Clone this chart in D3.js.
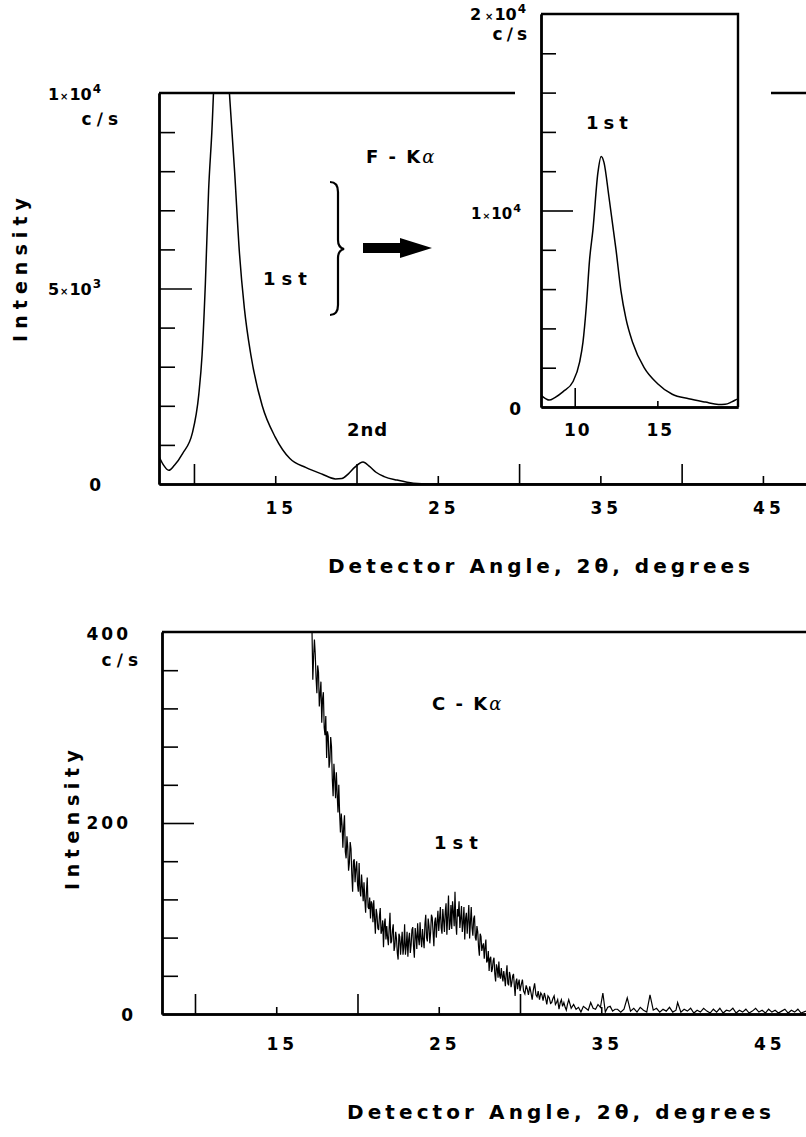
<!DOCTYPE html>
<html>
<head>
<meta charset="utf-8">
<script src="https://cdn.jsdelivr.net/npm/d3@7/dist/d3.min.js"></script>
<style>
  body { margin: 0; background: #fff; }
  text { font-family: "DejaVu Sans", "Liberation Sans", sans-serif; font-weight: bold; fill: #000; }
</style>
</head>
<body>
<div id="chart"></div>
<script>
// F-K alpha scan (degrees 2theta, counts per second)
var fkaAngle  = [7.85, 8.1, 8.45, 8.8, 9.3, 9.9, 10.3, 10.5, 10.7, 10.9, 11.1, 11.4, 11.6, 11.77,
                 12.07, 12.5, 12.8, 13.1, 13.5, 14.2, 15.0, 15.9, 16.9, 17.9, 18.7, 19.1, 19.5,
                 19.9, 20.4, 20.8, 21.2, 21.7, 22.5, 23.5, 24.5, 47.6];
var fkaCounts = [700, 500, 350, 480, 780, 1300, 2300, 3300, 5100, 7500, 9000, 11900, 12750, 12450,
                 10700, 8000, 5900, 4500, 3300, 2000, 1200, 650, 420, 250, 130, 140, 260,
                 430, 560, 450, 300, 190, 100, 20, 0, 0];

// C-K alpha scan, [angle, c/s]
var ckaScan = [
  [17.2,402],[17.25,350],[17.3,374],[17.35,392],[17.4,377],[17.45,352],[17.5,336],[17.55,365],
  [17.6,358],[17.65,322],[17.7,335],[17.75,348],[17.8,305],[17.85,330],[17.9,337],[17.95,300],
  [18.0,292],[18.05,312],[18.1,268],[18.15,296],[18.2,291],[18.25,258],[18.3,265],[18.35,290],
  [18.4,280],[18.45,246],[18.5,228],[18.55,262],[18.6,246],[18.65,226],[18.7,253],[18.75,230],
  [18.8,211],[18.85,240],[18.9,210],[18.95,190],[19.0,210],[19.05,198],[19.1,174],[19.15,196],
  [19.2,208],[19.25,170],[19.3,163],[19.35,186],[19.4,175],[19.45,150],[19.5,158],[19.55,180],
  [19.6,173],[19.65,146],[19.7,128],[19.75,160],[19.8,162],[19.85,138],[19.9,152],[19.95,160],
  [20.0,136],[20.05,128],[20.1,158],[20.15,130],[20.2,123],[20.25,146],[20.3,133],[20.35,118],
  [20.4,138],[20.45,120],[20.5,106],[20.55,128],[20.6,143],[20.65,112],[20.7,110],[20.75,122],
  [20.8,100],[20.85,118],[20.9,115],[20.95,96],[21.0,119],[21.05,100],[21.1,84],[21.15,110],
  [21.2,104],[21.25,90],[21.3,88],[21.35,102],[21.4,111],[21.45,84],[21.5,88],[21.55,98],
  [21.6,70],[21.65,94],[21.7,100],[21.75,78],[21.8,92],[21.85,80],[21.9,72],[21.95,90],
  [22.0,106],[22.05,74],[22.1,76],[22.15,88],[22.2,94],[22.25,66],[22.3,71],[22.35,86],
  [22.4,79],[22.45,64],[22.5,57],[22.55,84],[22.6,81],[22.65,62],[22.7,75],[22.75,86],
  [22.8,62],[22.85,70],[22.9,94],[22.95,62],[23.0,71],[23.05,86],[23.1,60],[23.15,78],
  [23.2,85],[23.25,64],[23.3,72],[23.35,88],[23.4,91],[23.45,70],[23.5,59],[23.55,90],
  [23.6,82],[23.65,68],[23.7,95],[23.75,80],[23.8,72],[23.85,96],[23.9,79],[23.95,70],
  [24.0,89],[24.05,78],[24.1,69],[24.15,94],[24.2,104],[24.25,80],[24.3,76],[24.35,100],
  [24.4,92],[24.45,74],[24.5,85],[24.55,104],[24.6,101],[24.65,86],[24.7,71],[24.75,96],
  [24.8,101],[24.85,80],[24.9,96],[24.95,108],[25.0,87],[25.05,100],[25.1,112],[25.15,90],
  [25.2,84],[25.25,110],[25.3,98],[25.35,86],[25.4,107],[25.45,116],[25.5,83],[25.55,102],
  [25.6,124],[25.65,88],[25.7,94],[25.75,114],[25.8,89],[25.85,118],[25.9,107],[25.95,92],
  [26.0,128],[26.05,96],[26.1,83],[26.15,110],[26.2,102],[26.25,118],[26.3,90],[26.35,100],
  [26.4,113],[26.45,86],[26.5,95],[26.55,112],[26.6,78],[26.65,100],[26.7,106],[26.75,84],
  [26.8,99],[26.85,114],[26.9,79],[26.95,96],[27.0,112],[27.05,90],[27.1,82],[27.15,100],
  [27.2,103],[27.25,80],[27.3,77],[27.35,92],[27.4,86],[27.45,70],[27.5,61],[27.55,84],
  [27.6,81],[27.65,66],[27.7,71],[27.75,74],[27.8,58],[27.85,70],[27.9,78],[27.95,54],
  [28.0,56],[28.05,66],[28.1,45],[28.15,58],[28.2,60],[28.25,44],[28.3,47],[28.35,56],
  [28.4,59],[28.45,42],[28.5,34],[28.55,52],[28.6,48],[28.65,38],[28.7,55],[28.75,40],
  [28.8,37],[28.85,48],[28.9,40],[28.95,34],[29.0,45],[29.05,38],[29.1,29],[29.15,42],
  [29.2,51],[29.25,32],[29.3,30],[29.35,44],[29.4,40],[29.45,28],[29.5,33],[29.55,40],
  [29.6,42],[29.65,30],[29.7,19],[29.75,34],[29.8,37],[29.85,26],[29.9,32],[29.95,36],
  [30.0,24],[30.08,31],[30.15,36],[30.22,24],[30.3,21],[30.38,30],[30.45,26],[30.52,20],
  [30.6,29],[30.68,22],[30.75,15],[30.82,25],[30.9,32],[30.98,20],[31.05,18],[31.12,24],
  [31.2,15],[31.28,22],[31.35,20],[31.42,14],[31.5,22],[31.58,16],[31.65,10],[31.72,19],
  [31.8,17],[31.88,11],[31.95,12],[32.02,16],[32.1,19],[32.18,10],[32.25,12],[32.32,15],
  [32.4,5],[32.48,12],[32.55,15],[32.62,8],[32.7,12],[32.78,7],[32.85,4],[32.92,10],
  [33.0,15],[33.15,6],[33.3,10],[33.45,5],[33.6,7],[33.75,2],[33.9,8],[34.05,6],[34.2,4],
  [34.35,12],[34.5,6],[34.65,5],[34.8,10],[34.95,7],[35.1,22],[35.25,2],[35.4,7],[35.55,8],
  [35.7,3],[35.85,5],[36.0,5],[36.2,2],[36.4,5],[36.6,17],[36.8,3],[37.0,6],[37.2,2],
  [37.4,7],[37.6,4],[37.8,2],[38.0,20],[38.2,4],[38.4,6],[38.6,2],[38.8,5],[39.0,3],[39.2,7],
  [39.4,2],[39.6,4],[39.7,12],[39.9,2],[40.1,5],[40.3,3],[40.5,6],[40.7,1],[40.9,4],[41.1,2],
  [41.3,6],[41.5,3],[41.7,1],[41.9,5],[42.1,2],[42.3,6],[42.5,1],[42.7,4],[42.9,3],[43.1,6],
  [43.3,1],[43.5,4],[43.7,2],[43.9,5],[44.1,1],[44.3,3],[44.5,6],[44.7,2],[44.9,4],[45.1,1],
  [45.3,5],[45.5,2],[45.7,4],[45.9,1],[46.1,3],[46.3,5],[46.5,1],[46.7,4],[46.9,2],[47.1,5],
  [47.3,1],[47.6,3]
];

// ticks
var xLongTicks = [10, 20, 30, 40];
var xShortTicks = [15, 25, 35, 45];
var xTickLabels = ["15", "25", "35", "45"];
var topMinorTicks = [1000, 2000, 3000, 4000, 6000, 7000, 8000, 9000];
var botMinorTicks = [40, 80, 120, 160, 240, 280, 320, 360];
var insetMinorTicks = [2000, 4000, 6000, 8000, 12000, 14000, 16000, 18000];
var insetXLong = [10];
var insetXShort = [15];
var insetXLabels = ["10", "15"];

var svg = d3.select("#chart").append("svg")
  .attr("width", 806)
  .attr("height", 1137);

var fka = fkaAngle.map(function(a, i) { return { x: a, y: fkaCounts[i] }; });
var cka = ckaScan.map(function(d) { return { x: d[0], y: d[1] }; });

// ---------- scales ----------
var xTop = d3.scaleLinear().domain([7.85, 47.65]).range([159, 806]);
var yTop = d3.scaleLinear().domain([0, 10000]).range([484, 93]);

var xIn = d3.scaleLinear().domain([7.96, 19.88]).range([541, 738]);
var yIn = d3.scaleLinear().domain([0, 20000]).range([407, 14]);

var xBot = d3.scaleLinear().domain([7.97, 47.6]).range([162, 806]);
var yBot = d3.scaleLinear().domain([0, 400]).range([1014, 632]);

function styleAxis(g, w) {
  g.selectAll("path.domain").attr("stroke", "#000").attr("stroke-width", w);
  g.selectAll(".tick line").attr("stroke", "#000").attr("stroke-width", 1.6);
  g.selectAll(".tick text").remove();
}

function drawFrame(x, y, minor, major, minorLen, majorLen, xLong, xShort, xLongLen, xShortLen) {
  var left = x.range()[0];
  var base = y.range()[0];
  var gY = svg.append("g").attr("transform", "translate(" + left + ",0)")
    .call(d3.axisRight(y).tickValues(minor).tickSizeInner(minorLen).tickSizeOuter(0).tickFormat(""));
  styleAxis(gY, 2.4);
  var gY2 = svg.append("g").attr("transform", "translate(" + left + ",0)")
    .call(d3.axisRight(y).tickValues(major).tickSizeInner(majorLen).tickSizeOuter(0).tickFormat(""));
  styleAxis(gY2, 2.4);
  var gX = svg.append("g").attr("transform", "translate(0," + base + ")")
    .call(d3.axisTop(x).tickValues(xLong).tickSizeInner(xLongLen).tickSizeOuter(0).tickFormat(""));
  styleAxis(gX, 2.4);
  var gX2 = svg.append("g").attr("transform", "translate(0," + base + ")")
    .call(d3.axisTop(x).tickValues(xShort).tickSizeInner(xShortLen).tickSizeOuter(0).tickFormat(""));
  styleAxis(gX2, 2.4);
}

function sciLabel(xp, yp, mant, exp, size, gap) {
  var t = svg.append("text").attr("x", xp).attr("y", yp)
    .attr("text-anchor", "end").style("font-size", size + "px");
  t.append("tspan").text(mant);
  t.append("tspan").style("font-size", (size * 0.62) + "px").attr("dx", gap || 1).text("\u00d7");
  t.append("tspan").attr("dx", 1).text("10");
  t.append("tspan").style("font-size", (size * 0.75) + "px").attr("dx", 1).attr("dy", -size * 0.45).text(exp);
  return t;
}

function label(xp, yp, txt, size, anchor, spacing) {
  return svg.append("text").attr("x", xp).attr("y", yp)
    .attr("text-anchor", anchor || "start")
    .style("font-size", size + "px")
    .style("letter-spacing", (spacing || 0) + "px")
    .text(txt);
}

function alphaTspan(t) {
  t.append("tspan").style("font-family", "'DejaVu Serif', serif").style("font-style", "italic")
    .style("font-weight", "normal").text("\u03b1");
}

// ---------- top panel (F-K alpha) ----------
svg.append("clipPath").attr("id", "clipTop").append("rect")
  .attr("x", 159).attr("y", 93).attr("width", 647).attr("height", 391);

drawFrame(xTop, yTop, topMinorTicks, [5000], 16, 33, xLongTicks, xShortTicks, 20, 8);

svg.append("line")
  .attr("x1", xTop.range()[0]).attr("x2", xTop.range()[1])
  .attr("y1", yTop(10000)).attr("y2", yTop(10000))
  .attr("stroke", "#000").attr("stroke-width", 2.4);

var lineTop = d3.line().x(d => xTop(d.x)).y(d => yTop(d.y)).curve(d3.curveMonotoneX);
svg.append("path").datum(fka)
  .attr("d", lineTop)
  .attr("clip-path", "url(#clipTop)")
  .attr("fill", "none").attr("stroke", "#000").attr("stroke-width", 1.5);

sciLabel(101, 100, "1", "4", 16);
label(123, 125, "c\u2215s", 17, "end", 5);
sciLabel(101, 295, "5", "3", 16);
label(101, 491, "0", 17, "end");

svg.append("text")
  .attr("transform", "translate(27,270) rotate(-90)")
  .attr("text-anchor", "middle")
  .style("font-size", "19px")
  .attr("textLength", 144).attr("lengthAdjust", "spacing")
  .text("Intensity");

xShortTicks.forEach(function(v, i) {
  label(xTop(v) + 6, 514, xTickLabels[i], 17, "middle", 4);
});
svg.append("text").attr("x", 328).attr("y", 573)
  .style("font-size", "20px")
  .attr("textLength", 422).attr("lengthAdjust", "spacing")
  .text("Detector Angle, 2\u03b8, degrees");

// annotations
var fk = label(366, 163, "F - K", 18, "start", 2);
alphaTspan(fk);
label(263, 285, "1st", 18, "start", 6);
label(347, 436, "2nd", 18, "start", 1);
svg.append("path")
  .attr("d", "M330,182 C336,182 338,186 338,192 L338,240 C338,245 340,248 344,249 C340,250 338,253 338,258 L338,305 C338,311 336,315 330,315")
  .attr("fill", "none").attr("stroke", "#000").attr("stroke-width", 2.2);
svg.append("path")
  .attr("d", "M363,243 H400 V238 L432,248 L400,258 V253 H363 Z")
  .attr("fill", "#000");

// ---------- inset ----------
svg.append("rect").attr("x", 515).attr("y", 0).attr("width", 256).attr("height", 445).attr("fill", "#fff");
svg.append("clipPath").attr("id", "clipIn").append("rect")
  .attr("x", 541).attr("y", 14).attr("width", 197).attr("height", 393);

drawFrame(xIn, yIn, insetMinorTicks, [10000], 15, 32, insetXLong, insetXShort, 19, 6);
svg.append("path")
  .attr("d", "M541,14 H738 V407")
  .attr("fill", "none").attr("stroke", "#000").attr("stroke-width", 2.4);

var lineIn = d3.line().x(d => xIn(d.x)).y(d => yIn(d.y)).curve(d3.curveMonotoneX);
svg.append("path").datum(fka)
  .attr("d", lineIn)
  .attr("clip-path", "url(#clipIn)")
  .attr("fill", "none").attr("stroke", "#000").attr("stroke-width", 1.5);

sciLabel(526, 20, "2", "4", 16, 4);
label(531, 40, "c\u2215s", 17, "end", 4);
sciLabel(521, 219, "1", "4", 15);
label(521, 415, "0", 17, "end");
insetXLong.concat(insetXShort).forEach(function(v, i) {
  label(xIn(v) + 3, 436, insetXLabels[i], 17, "middle", 2);
});
label(586, 129, "1st", 18, "start", 5);

// ---------- bottom panel (C-K alpha) ----------
svg.append("clipPath").attr("id", "clipBot").append("rect")
  .attr("x", 162).attr("y", 632).attr("width", 644).attr("height", 382);

drawFrame(xBot, yBot, botMinorTicks, [200], 16, 32, [10, 20, 30], [15, 25, 35], 20, 7);
svg.append("line")
  .attr("x1", xBot.range()[0]).attr("x2", xBot.range()[1])
  .attr("y1", yBot(400)).attr("y2", yBot(400))
  .attr("stroke", "#000").attr("stroke-width", 2.4);

var lineBot = d3.line().x(d => xBot(d.x)).y(d => yBot(d.y));
svg.append("path").datum(cka)
  .attr("d", lineBot)
  .attr("clip-path", "url(#clipBot)")
  .attr("fill", "none").attr("stroke", "#000").attr("stroke-width", 1.2);

label(131, 640, "400", 17, "end", 3);
label(143, 666, "c\u2215s", 17, "end", 5);
label(131, 829, "200", 17, "end", 3);
label(133, 1021, "0", 17, "end");

svg.append("text")
  .attr("transform", "translate(79,820) rotate(-90)")
  .attr("text-anchor", "middle")
  .style("font-size", "19px")
  .attr("textLength", 140).attr("lengthAdjust", "spacing")
  .text("Intensity");

xShortTicks.forEach(function(v, i) {
  label(xBot(v) + 6, 1050, xTickLabels[i], 17, "middle", 4);
});
svg.append("text").attr("x", 347).attr("y", 1119)
  .style("font-size", "20px")
  .attr("textLength", 424).attr("lengthAdjust", "spacing")
  .text("Detector Angle, 2\u03b8, degrees");

var ck = label(432, 710, "C - K", 18, "start", 2);
alphaTspan(ck);
label(434, 849, "1st", 18, "start", 6);
</script>
</body>
</html>
